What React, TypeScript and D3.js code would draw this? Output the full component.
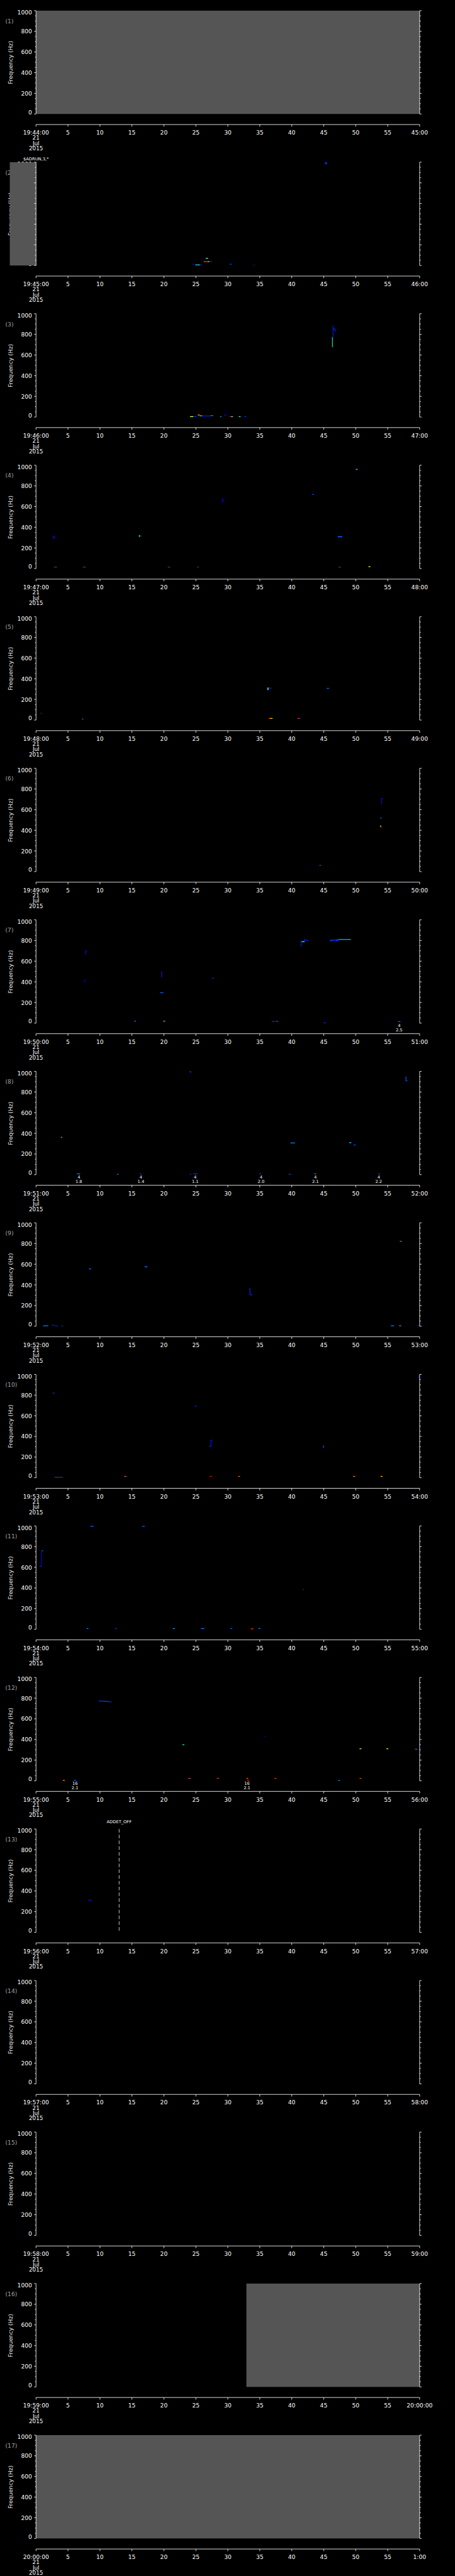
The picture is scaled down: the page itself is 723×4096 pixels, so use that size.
import * as d3 from "d3";

// one minute per panel, 17 panels stacked
const panelStarts = [
  "19:44:00", "19:45:00", "19:46:00", "19:47:00", "19:48:00", "19:49:00",
  "19:50:00", "19:51:00", "19:52:00", "19:53:00", "19:54:00", "19:55:00",
  "19:56:00", "19:57:00", "19:58:00", "19:59:00", "20:00:00",
];
const panelEnds = [
  "45:00", "46:00", "47:00", "48:00", "49:00", "50:00", "51:00", "52:00",
  "53:00", "54:00", "55:00", "56:00", "57:00", "58:00", "59:00", "20:00:00", "1:00",
];
const secondTicks = [0, 5, 10, 15, 20, 25, 30, 35, 40, 45, 50, 55, 60];
const freqTicks = [0, 200, 400, 600, 800, 1000];
const dateLines = ["21", "Jul", "2015"];

// no-data (gray) spans: [panel, t0, t1]
const gaps: [number, number, number][] = [
  [0, 0, 60],
  [1, -4.1, 0],
  [15, 32.9, 60],
  [16, 0, 60],
];

// spectrogram returns: [panel, t0, t1, f0, f1, level]
const blips: [number, number, number, number, number, number][] = [
  [1, 45.2, 45.5, 980, 1000, 0.3],
  [1, 26.4, 26.6, 62, 68, 0.3], [1, 26.6, 26.9, 66, 74, 0.7],
  [1, 26.2, 26.9, 36, 42, 0.95], [1, 26.9, 27.1, 36, 42, 0.75], [1, 27.1, 27.5, 36, 42, 0.3],
  [1, 24.4, 24.7, 12, 16, 0.2],
  [1, 24.9, 25.3, 5, 10, 0.55], [1, 25.3, 25.6, 5, 10, 0.65], [1, 25.6, 25.9, 5, 10, 0.3],
  [1, 30.3, 30.6, 12, 16, 0.35],
  [1, 34.0, 34.2, 4, 8, 0.2],

  [2, 46.3, 46.4, 676, 773, 0.6],
  [2, 46.4, 46.5, 773, 885, 0.25],
  [2, 46.5, 46.8, 840, 860, 0.2],
  [2, 46.8, 46.95, 830, 845, 0.25],
  [2, 24.1, 24.6, 0, 5, 0.75], [2, 24.6, 25.1, 0, 5, 0.3],
  [2, 25.3, 25.6, 15, 24, 0.85],
  [2, 25.6, 26.0, 8, 16, 0.6],
  [2, 26.0, 27.3, 8, 14, 0.25],
  [2, 27.3, 27.7, 12, 18, 0.45],
  [2, 29.4, 29.8, 18, 24, 0.2],
  [2, 28.8, 29.0, 0, 5, 0.5],
  [2, 30.2, 30.5, 0, 5, 0.3], [2, 30.5, 30.8, 0, 5, 0.8],
  [2, 31.7, 32.0, 0, 5, 0.6],
  [2, 32.6, 32.9, 0, 5, 0.3],

  [3, 2.7, 2.9, 288, 318, 0.2],
  [3, 16.1, 16.3, 308, 322, 0.6],
  [3, 29.1, 29.3, 640, 680, 0.15],
  [3, 43.2, 43.5, 714, 722, 0.35],
  [3, 47.2, 47.9, 303, 313, 0.4],
  [3, 50.0, 50.3, 955, 965, 0.5],
  [3, 52.0, 52.3, 15, 22, 0.75],
  [3, 2.8, 3.3, 14, 18, 0], [3, 7.3, 7.8, 14, 18, 0], [3, 20.6, 21.0, 14, 18, 0],
  [3, 25.2, 25.5, 14, 18, 0], [3, 47.3, 47.7, 14, 18, 0],

  [4, 0.7, 0.9, 62, 70, 0.25],
  [4, 7.2, 7.4, 9, 14, 0.45],
  [4, 36.2, 36.35, 290, 315, 0.7], [4, 36.35, 36.8, 305, 313, 0.3],
  [4, 36.4, 36.6, 14, 20, 0.95], [4, 36.6, 37.0, 14, 20, 0.8],
  [4, 40.9, 41.2, 14, 20, 0.95], [4, 41.2, 41.4, 14, 20, 0.3],
  [4, 45.5, 45.8, 303, 311, 0.45],

  [5, 44.3, 44.6, 58, 64, 0.35],
  [5, 53.8, 54.0, 435, 445, 0.8], [5, 53.9, 54.1, 422, 430, 0.25],
  [5, 53.85, 54.05, 515, 522, 0.45],
  [5, 54.0, 54.1, 650, 710, 0.2], [5, 54.1, 54.3, 705, 712, 0.2],

  [6, 7.5, 7.6, 390, 420, 0.15], [6, 7.6, 7.8, 415, 420, 0.15],
  [6, 7.7, 7.8, 662, 703, 0.2], [6, 7.8, 8.0, 698, 703, 0.2],
  [6, 19.6, 19.7, 445, 503, 0.25],
  [6, 19.4, 19.9, 292, 298, 0.4],
  [6, 27.6, 27.8, 432, 438, 0.35],
  [6, 41.4, 41.5, 742, 798, 0.25],
  [6, 41.55, 42.0, 783, 795, 0.5],
  [6, 42.0, 42.1, 795, 818, 0.3],
  [6, 42.15, 42.6, 797, 805, 0.25],
  [6, 46.0, 46.4, 793, 808, 0.3], [6, 46.4, 46.9, 798, 810, 0.25], [6, 46.9, 47.3, 793, 812, 0.3],
  [6, 47.3, 49.25, 806, 814, 0.5],
  [6, 15.4, 15.6, 17, 23, 0.5],
  [6, 19.9, 20.2, 17, 23, 0.85],
  [6, 36.9, 37.4, 15, 20, 0.3], [6, 37.6, 37.8, 15, 21, 0.5],
  [6, 45.0, 45.3, 0, 4, 0.3],
  [6, 56.6, 57.0, 14, 19, 0.4],

  [7, 24.0, 24.3, 990, 1000, 0.3],
  [7, 57.8, 57.9, 905, 950, 0.4], [7, 57.9, 58.1, 905, 912, 0.35],
  [7, 3.9, 4.1, 358, 366, 0.55],
  [7, 39.8, 40.5, 303, 311, 0.45],
  [7, 49.0, 49.3, 305, 315, 0.5],
  [7, 49.7, 50.0, 279, 295, 0.25],
  [7, 6.4, 6.9, 6, 12, 0.45],
  [7, 12.7, 12.9, 0, 4, 0.5],
  [7, 16.2, 16.5, 6, 12, 0.3],
  [7, 24.1, 24.3, 0, 4, 0.3],
  [7, 24.6, 25.3, 6, 12, 0.3],
  [7, 34.9, 35.2, 6, 12, 0.3],
  [7, 39.6, 39.8, 0, 4, 0.45],
  [7, 43.5, 43.8, 6, 12, 0.45],
  [7, 53.5, 53.8, 6, 12, 0.3],

  [8, 1.1, 1.9, 0, 4, 0.45],
  [8, 2.5, 2.8, 9, 14, 0.3],
  [8, 2.9, 3.4, 0, 4, 0.25],
  [8, 4.0, 4.2, 2, 6, 0.3],
  [8, 8.3, 8.6, 550, 560, 0.4],
  [8, 17.0, 17.4, 570, 580, 0.4],
  [8, 33.4, 33.5, 304, 370, 0.3], [8, 33.5, 33.8, 302, 308, 0.3],
  [8, 55.5, 56.0, 0, 4, 0.45],
  [8, 56.8, 57.1, 0, 3, 0.5],
  [8, 56.9, 57.2, 820, 826, 0.5],
  [8, 59.7, 60, 3, 8, 0.3],

  [9, 2.6, 2.9, 816, 823, 0.3],
  [9, 24.8, 25.1, 688, 697, 0.25],
  [9, 27.1, 27.3, 298, 305, 0.3], [9, 27.3, 27.4, 300, 365, 0.25], [9, 27.4, 27.6, 360, 366, 0.25],
  [9, 44.9, 45.0, 288, 312, 0.4],
  [9, 0, 0.2, 0, 4, 0.3],
  [9, 2.9, 4.2, 0, 3, 0],
  [9, 13.8, 14.1, 12, 17, 0.9], [9, 14.1, 14.3, 12, 17, 0.3],
  [9, 27.2, 27.5, 12, 17, 1.0],
  [9, 31.6, 31.9, 12, 17, 0.9],
  [9, 49.6, 49.9, 12, 17, 0.85],
  [9, 53.9, 54.2, 12, 17, 0.8],
  [9, 59.8, 59.9, 960, 995, 0.2],

  [10, 0.8, 0.9, 610, 762, 0.2],
  [10, 0.6, 0.8, 608, 614, 0.3],
  [10, 0.9, 1.1, 758, 764, 0.45],
  [10, 8.5, 9.0, 994, 1000, 0.4],
  [10, 16.6, 17.0, 994, 1000, 0.4],
  [10, 41.7, 41.9, 380, 388, 0.25],
  [10, 7.9, 8.2, 6, 11, 0.45],
  [10, 12.4, 12.6, 6, 11, 0.35],
  [10, 21.4, 21.7, 6, 11, 0.5],
  [10, 25.8, 26.3, 6, 11, 0.45],
  [10, 30.4, 30.7, 6, 11, 0.4],
  [10, 33.6, 34.0, 0, 4, 0.95],
  [10, 34.8, 35.1, 6, 11, 0.45],

  [11, 9.8, 10.4, 768, 776, 0.3], [11, 10.4, 11.3, 766, 773, 0.35], [11, 11.3, 11.8, 760, 770, 0.25],
  [11, 22.9, 23.2, 347, 353, 0.6],
  [11, 35.8, 36.0, 428, 432, 0.15],
  [11, 50.6, 50.9, 308, 314, 0.7],
  [11, 54.8, 55.1, 308, 314, 0.72],
  [11, 59.3, 59.6, 302, 310, 0.45],
  [11, 4.2, 4.5, 0, 4, 0.85],
  [11, 5.9, 6.3, 0, 4, 0.4],
  [11, 23.8, 24.1, 21, 27, 0.95], [11, 24.1, 24.3, 21, 27, 0.3],
  [11, 28.3, 28.6, 21, 27, 0.95],
  [11, 32.9, 33.2, 21, 27, 0.9],
  [11, 33.0, 33.3, 0, 3, 1.0],
  [11, 37.3, 37.6, 21, 27, 0.95],
  [11, 47.3, 47.5, 0, 4, 0.55],
  [11, 50.6, 50.9, 21, 27, 0.95],

  [12, 8.2, 8.7, 307, 316, 0.2],
];

// small two-line detection labels under the plot: [panel, t, line1, line2]
const markers: [number, number, string, string][] = [
  [6, 56.8, "4", "2.5"],
  [7, 6.7, "4", "1.8"], [7, 16.4, "4", "1.4"], [7, 24.9, "4", "1.1"],
  [7, 35.2, "4", "2.0"], [7, 43.7, "4", "2.1"], [7, 53.6, "4", "2.2"],
  [11, 6.1, "16", "2.1"], [11, 33.0, "16", "2.1"],
];

// command events: [panel, t, label, dashed line]
const events: [number, number, string, boolean][] = [
  [1, 0, "$ADRUN,3,*", false],
  [12, 13.0, "ADDET_OFF", true],
];

const W = 1024;
const H = 5802;
const PANEL_H = H / 17;
const TOP = 24;
const BOTTOM = 256.7;
const LEFT = 81;
const RIGHT = 944.5;
const AXIS_Y = 280.5;
const FONT = "DejaVu Sans, sans-serif";

const x = d3.scaleLinear().domain([0, 60]).range([LEFT, RIGHT]);
const y = d3.scaleLinear().domain([0, 1000]).range([BOTTOM, TOP]);
const minorTicks = y.ticks(20);

const color = d3
  .scaleLinear<string>()
  .domain([0, 0.15, 0.3, 0.45, 0.55, 0.65, 0.75, 0.85, 1])
  .range(["#3c3c56", "#0000c0", "#0030f0", "#0080ff", "#00d8ff", "#40ff90", "#ffff00", "#ff9000", "#ff1000"]);

function Panel({ i }: { i: number }) {
  return (
    <g transform={`translate(0,${i * PANEL_H})`}>
      {/* panel number and y label */}
      <text x={12} y={47} fill="#a0a0a0" fontSize={13} dominantBaseline="central" fontFamily={FONT}>
        ({i + 1})
      </text>
      <text
        transform={`translate(28,141) rotate(-90)`}
        fill="#e8e8e8"
        fontSize={13}
        textAnchor="middle"
        fontFamily={FONT}
      >
        Frequency (Hz)
      </text>
      {freqTicks.map((f) => (
        <text
          key={f}
          x={72}
          y={Math.min(Math.max(y(f), TOP + 3.8), BOTTOM - 4.3)}
          fill="#fff"
          fontSize={13}
          textAnchor="end"
          dominantBaseline="central"
          fontFamily={FONT}
        >
          {f}
        </text>
      ))}

      {/* no-data spans */}
      {gaps
        .filter((g) => g[0] === i)
        .map((g, k) => (
          <rect key={k} x={x(g[1])} y={TOP} width={x(g[2]) - x(g[1])} height={BOTTOM - TOP} fill="#555555" />
        ))}

      {/* spectrogram returns */}
      {blips
        .filter((b) => b[0] === i)
        .map((b, k) => {
          const x0 = x(b[1]);
          const w = Math.max(x(b[2]) - x0, 1.6);
          const y1 = y(b[4]);
          const h = Math.max(y(b[3]) - y1, 1.8);
          return <rect key={k} x={x0} y={Math.min(y1, BOTTOM - h)} width={w} height={h} fill={color(b[5])} />;
        })}

      {/* frame axes */}
      <g stroke="#fff" strokeWidth={1.2}>
        <line x1={LEFT} x2={LEFT} y1={TOP} y2={BOTTOM} />
        <line x1={RIGHT} x2={RIGHT} y1={TOP} y2={BOTTOM} />
        {minorTicks.map((f) => {
          const major = f % 200 === 0;
          return (
            <g key={f}>
              <line x1={LEFT - (major ? 4.3 : 2.3)} x2={LEFT} y1={y(f)} y2={y(f)} />
              <line x1={RIGHT} x2={RIGHT + (major ? 4.4 : 2.6)} y1={y(f)} y2={y(f)} />
            </g>
          );
        })}
        <line x1={LEFT} x2={RIGHT} y1={AXIS_Y} y2={AXIS_Y} />
        {secondTicks.map((s) => (
          <line key={s} x1={x(s)} x2={x(s)} y1={AXIS_Y} y2={AXIS_Y + 4.7} />
        ))}
      </g>

      {/* time labels */}
      {secondTicks.map((s) => (
        <text
          key={s}
          x={x(s)}
          y={303.5}
          fill="#fff"
          fontSize={13}
          textAnchor="middle"
          fontFamily={FONT}
        >
          {s === 0 ? panelStarts[i] : s === 60 ? panelEnds[i] : s}
        </text>
      ))}
      {dateLines.map((d, k) => (
        <text key={d} x={x(0)} y={315 + k * 11.8} fill="#fff" fontSize={12.5} textAnchor="middle" fontFamily={FONT}>
          {d}
        </text>
      ))}

      {/* detection labels */}
      {markers
        .filter((m) => m[0] === i)
        .map((m, k) => (
          <g key={k} fill="#fff" fontSize={9.5} textAnchor="middle" fontFamily={FONT}>
            <text x={x(m[1])} y={265.8}>{m[2]}</text>
            <text x={x(m[1])} y={276}>{m[3]}</text>
          </g>
        ))}

      {/* events */}
      {events
        .filter((e) => e[0] === i)
        .map((e, k) => (
          <g key={k}>
            <text
              x={x(e[1])}
              y={e[3] ? 10.5 : 19.5}
              fill="#fff"
              fontSize={9.5}
              textAnchor="middle"
              fontFamily={FONT}
            >
              {e[2]}
            </text>
            {e[3] && (
              <line
                x1={x(e[1])}
                x2={x(e[1])}
                y1={TOP}
                y2={BOTTOM}
                stroke="#fff"
                strokeWidth={1.1}
                strokeDasharray="8,5"
              />
            )}
          </g>
        ))}
    </g>
  );
}

export default function App() {
  return (
    <svg
      width={723}
      height={4096}
      viewBox={`0 0 ${W} ${H}`}
      style={{ position: "absolute", left: 0, top: 0, background: "#000", display: "block" }}
    >
      <rect x={0} y={0} width={W} height={H} fill="#000" />
      {panelStarts.map((_, i) => (
        <Panel key={i} i={i} />
      ))}
    </svg>
  );
}
